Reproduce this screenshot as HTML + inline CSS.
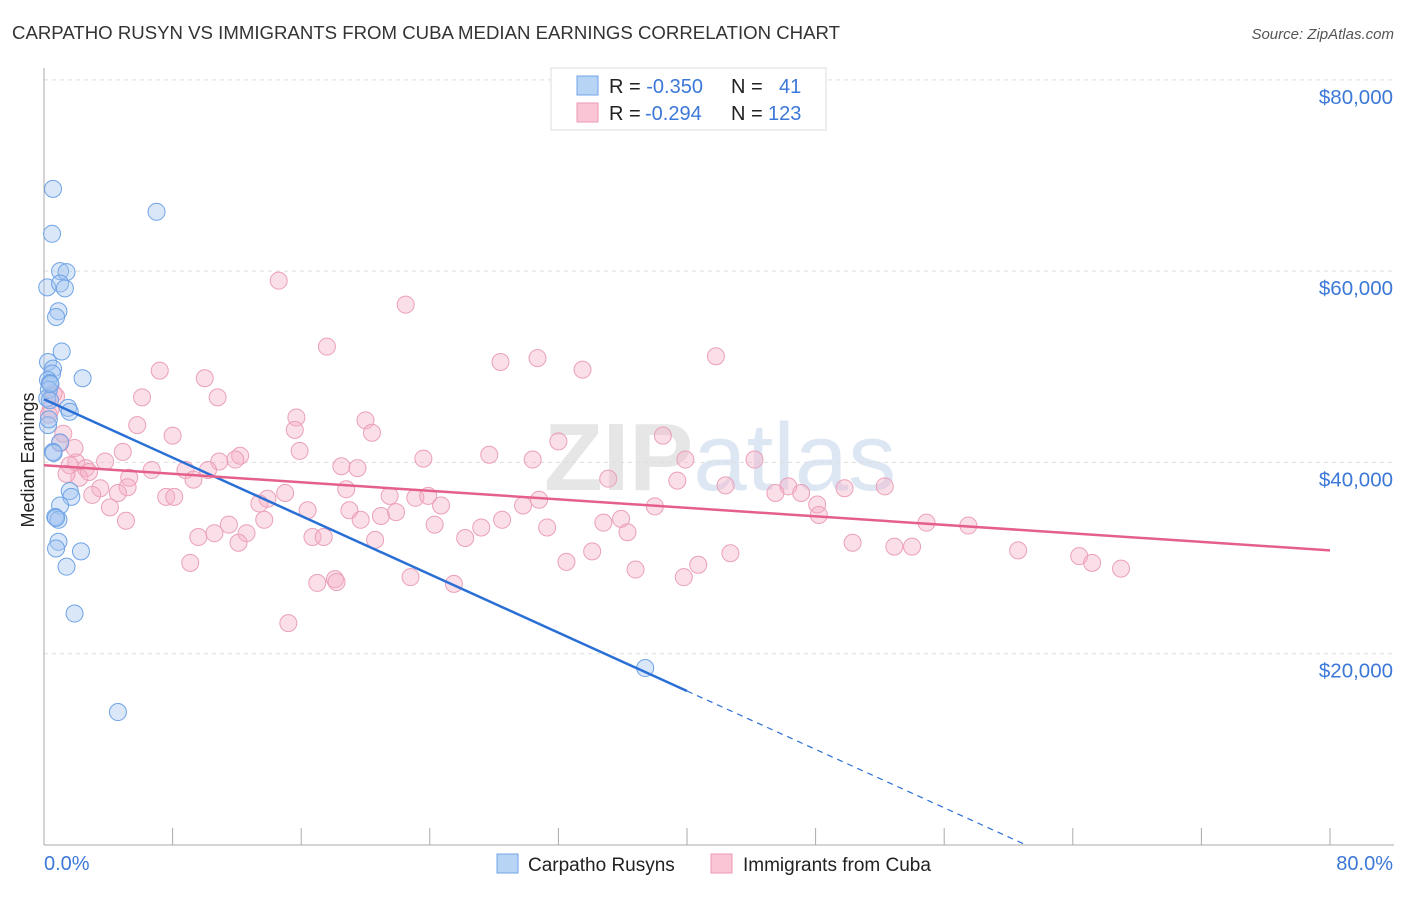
<!DOCTYPE html>
<html><head><meta charset="utf-8"><style>
body{margin:0;background:#fff;font-family:"Liberation Sans",sans-serif}
svg text{font-family:"Liberation Sans",sans-serif}
</style></head><body>
<svg width="1406" height="892" viewBox="0 0 1406 892">
<text x="12" y="39" font-size="18" fill="#333" textLength="828" lengthAdjust="spacingAndGlyphs">CARPATHO RUSYN VS IMMIGRANTS FROM CUBA MEDIAN EARNINGS CORRELATION CHART</text>
<text x="1394" y="39" font-size="15" fill="#555" text-anchor="end" font-style="italic">Source: ZipAtlas.com</text>
<text x="720" y="490" font-size="96" fill="#e6e6e6" text-anchor="middle" font-weight="bold">ZIP<tspan font-weight="normal" fill="#dde6f3">atlas</tspan></text>
<g id="grid"></g>
<g id="axes"></g>
<text transform="translate(34,460) rotate(-90)" font-size="18" fill="#222" text-anchor="middle">Median Earnings</text>
<g id="marks"></g>
<g>
<rect x="551" y="68" width="275" height="62" fill="#fff" stroke="#ddd"/>
<rect x="577" y="76" width="21" height="19" fill="#b8d4f5" stroke="#6fa3e6"/>
<rect x="577" y="103" width="21" height="19" fill="#fac6d5" stroke="#ec9ab2"/>
<text x="609" y="93" font-size="20" fill="#222">R = <tspan fill="#3c78d8">-0.350</tspan><tspan x="731">N =</tspan><tspan x="779" fill="#3c78d8">41</tspan></text>
<text x="609" y="120" font-size="20" fill="#222">R = <tspan fill="#3c78d8" x="645">-0.294</tspan><tspan x="731">N =</tspan><tspan x="768" fill="#3c78d8">123</tspan></text>
</g>
<g>
<rect x="497" y="854" width="21" height="19" fill="#b8d4f5" stroke="#6fa3e6"/>
<text x="528" y="871" font-size="19" fill="#222">Carpatho Rusyns</text>
<rect x="711" y="854" width="21" height="19" fill="#fac6d5" stroke="#ec9ab2"/>
<text x="743" y="871" font-size="19" fill="#222">Immigrants from Cuba</text>
</g>
</svg>
<script>
const yTicks=[20000,40000,60000,80000];
const yTickLabels=["$20,000","$40,000","$60,000","$80,000"];
const xTicks=[0,8,16,24,32,40,48,56,64,72,80];
const blueX=[0.56,7.0,0.5,1.0,1.4,0.2,1.0,1.3,0.9,0.75,1.1,0.25,0.56,0.5,2.4,0.25,0.37,0.3,0.2,1.5,1.6,0.25,1.0,0.56,1.6,1.7,1.0,0.7,0.9,0.75,0.9,0.75,2.3,1.4,1.9,4.6,37.4,0.37,0.4,0.6,0.3];
const blueY=[68600,66200,63900,60000,59900,58300,58700,58200,55800,55200,51600,50500,49800,49300,48800,48600,48300,47600,46700,45700,45300,43900,42100,41100,37000,36400,35500,34300,34000,34200,31700,31000,30700,29100,24200,13900,18500,46500,48200,41000,44500];
const pinkX=[14.6,22.5,17.6,28.4,30.7,41.8,33.5,7.2,10.0,10.8,6.1,0.75,0.4,15.7,20.0,5.8,15.6,20.4,8.0,38.5,32.0,1.0,15.9,4.9,27.7,12.2,23.6,39.9,30.4,44.2,11.9,10.9,3.8,2.0,18.5,1.6,19.5,2.6,6.7,8.8,10.2,2.2,5.3,9.3,35.1,39.4,42.4,46.3,49.8,52.3,18.8,3.5,5.2,4.6,3.0,7.6,8.1,13.9,15.0,21.5,23.1,23.9,30.8,45.5,47.1,48.1,13.4,24.7,29.8,38.0,4.1,16.4,19.0,21.9,48.2,20.96,13.7,19.7,5.1,28.5,35.9,34.8,54.9,57.5,11.5,24.3,27.2,31.3,36.3,12.6,10.6,9.6,16.7,17.4,20.6,26.2,12.1,50.3,52.9,54.0,34.1,42.7,60.6,64.4,65.2,67.0,32.5,40.7,9.1,36.8,39.8,22.8,18.1,18.2,17.0,25.5,15.2,0.3,1.2,0.6,2.8,1.9,1.4];
const pinkY=[59000,56500,52100,50500,50900,51100,49700,49600,48800,46800,46800,46900,45500,44700,44400,43900,43400,43100,42800,42800,42200,42000,41200,41100,40800,40700,40400,40300,40300,40300,40300,40100,40100,40000,39600,39700,39400,39400,39200,39200,39200,38400,38400,38200,38300,38100,37600,37500,37300,37500,37200,37300,37400,36800,36600,36400,36400,36200,36800,36500,36300,36500,36100,36800,36800,35600,35700,35500,35500,35400,35300,35000,35000,34800,34500,34400,34000,34000,33900,34000,34100,33700,33700,33400,33500,33500,33200,33200,32700,32600,32600,32200,32200,32200,31900,32100,31600,31600,31200,31200,30700,30500,30800,30200,29500,28900,29600,29300,29500,28800,28000,28000,27800,27500,27400,27300,23200,45000,43000,47200,39000,41500,38800];
const blueFit=[46600,16100,0];
const blueFitX=[0,40,61.1];
const pinkFit=[39700,30800];
const pinkFitX=[0,80];
const NS="http://www.w3.org/2000/svg";
const X=v=>44+v*16.075, Y=v=>845-v/104.55;
function mk(t,a,p){const e=document.createElementNS(NS,t);for(const k in a)e.setAttribute(k,a[k]);p.appendChild(e);return e;}
const grid=document.getElementById('grid'),axes=document.getElementById('axes'),marks=document.getElementById('marks');
yTicks.forEach((v,i)=>{const l=mk('line',{x1:44,x2:1394,y1:Y(v),y2:Y(v),stroke:'#ddd','stroke-dasharray':'4,4'},grid);


const t=mk('text',{x:1393,y:Y(v)+24,'font-size':20.5,fill:'#3c78d8','text-anchor':'end'},axes);t.textContent=yTickLabels[i];

});
const ax=mk('line',{x1:44,x2:1394,y1:845,y2:845,stroke:'#aaa'},axes);


const ay=mk('line',{x1:44,x2:44,y1:68,y2:845,stroke:'#aaa'},axes);


xTicks.forEach(v=>{const l=mk('line',{x1:X(v),x2:X(v),y1:828,y2:845,stroke:'#aaa'},axes);

});
const t0=mk('text',{x:44,y:870,'font-size':20,fill:'#3c78d8'},axes);t0.textContent='0.0%';


const t1=mk('text',{x:1393,y:870,'font-size':20,fill:'#3c78d8','text-anchor':'end'},axes);t1.textContent='80.0%';


pinkX.forEach((v,i)=>{const c=mk('circle',{cx:X(v),cy:Y(pinkY[i]),r:8.5,fill:'rgba(245,175,198,0.4)',stroke:'#eba0b7','stroke-width':1},marks);

});
blueX.forEach((v,i)=>{const c=mk('circle',{cx:X(v),cy:Y(blueY[i]),r:8.5,fill:'rgba(160,196,240,0.4)',stroke:'#6fa3e6','stroke-width':1},marks);

});
const bl=mk('line',{x1:X(blueFitX[0]),y1:Y(blueFit[0]),x2:X(blueFitX[1]),y2:Y(blueFit[1]),stroke:'#2a6fd6','stroke-width':2.5},marks);


const bd=mk('line',{x1:X(blueFitX[1]),y1:Y(blueFit[1]),x2:X(blueFitX[2]),y2:Y(blueFit[2]),stroke:'#2a6fd6','stroke-width':1.2,'stroke-dasharray':'6,5'},marks);


const pl=mk('line',{x1:X(pinkFitX[0]),y1:Y(pinkFit[0]),x2:X(pinkFitX[1]),y2:Y(pinkFit[1]),stroke:'#e4608a','stroke-width':2.5},marks);


</script>
</body></html>
